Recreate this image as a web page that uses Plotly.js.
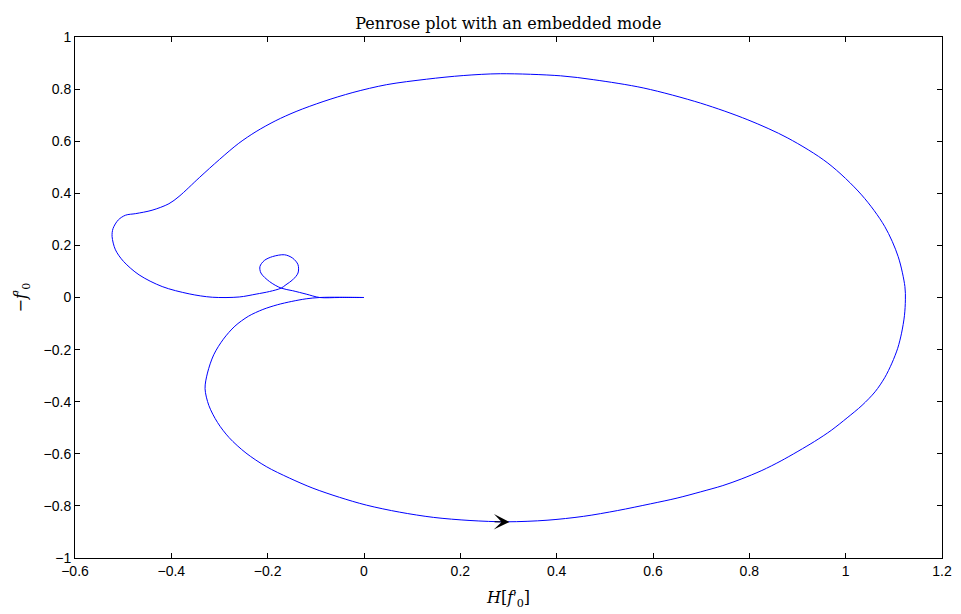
<!DOCTYPE html>
<html>
<head>
<meta charset="utf-8">
<script src="https://cdn.plot.ly/plotly-3.0.1.min.js"></script>
<style>html,body{margin:0;padding:0;background:#fff;}#chart{width:961px;height:614px;}</style>
</head>
<body>
<div id="chart"></div>
<script>
// Real part H[f0'] along the contour
const hilbertF0 = [
  0.000, -0.051, -0.092, -0.120, -0.150, -0.180, -0.210, -0.240, -0.268, -0.292,
  -0.312, -0.325, -0.330, -0.322, -0.304, -0.280, -0.245, -0.203, -0.155, -0.106,
  -0.051, 0.005, 0.074, 0.144, 0.220, 0.297, 0.380, 0.456, 0.526, 0.595,
  0.650, 0.699, 0.745, 0.783, 0.826, 0.866, 0.935, 0.970, 1.003, 1.034,
  1.061, 1.081, 1.096, 1.108, 1.116, 1.122, 1.124, 1.123, 1.109, 1.081,
  1.033, 0.963, 0.880, 0.797, 0.699, 0.581, 0.477, 0.408, 0.283, 0.206,
  0.130, 0.047, -0.023, -0.085, -0.141, -0.183, -0.224, -0.260, -0.300, -0.342,
  -0.384, -0.405, -0.440, -0.474, -0.495, -0.510, -0.521, -0.523, -0.516, -0.499,
  -0.467, -0.419, -0.363, -0.315, -0.259, -0.224, -0.196, -0.172, -0.162, -0.148,
  -0.137, -0.137, -0.148, -0.165, -0.190, -0.207, -0.216, -0.214, -0.196, -0.172,
  -0.148, -0.120, -0.092, -0.051, 0.000
];
// Imaginary part -f0'
const minusF0 = [
  0.000, 0.001, 0.000, -0.005, -0.015, -0.028, -0.046, -0.072, -0.110, -0.160,
  -0.220, -0.290, -0.350, -0.415, -0.480, -0.538, -0.597, -0.649, -0.693, -0.732,
  -0.767, -0.797, -0.824, -0.844, -0.856, -0.861, -0.855, -0.840, -0.818, -0.792,
  -0.770, -0.746, -0.722, -0.697, -0.664, -0.627, -0.553, -0.510, -0.462, -0.414,
  -0.362, -0.308, -0.252, -0.195, -0.137, -0.070, -0.009, 0.042, 0.157, 0.273,
  0.394, 0.516, 0.612, 0.682, 0.746, 0.804, 0.836, 0.851, 0.859, 0.852,
  0.838, 0.817, 0.787, 0.752, 0.714, 0.679, 0.637, 0.592, 0.530, 0.460,
  0.388, 0.360, 0.335, 0.322, 0.316, 0.298, 0.265, 0.234, 0.183, 0.138,
  0.087, 0.042, 0.014, 0.001, 0.002, 0.013, 0.023, 0.036, 0.049, 0.068,
  0.094, 0.126, 0.151, 0.164, 0.157, 0.142, 0.119, 0.094, 0.061, 0.036,
  0.026, 0.013, 0.000, 0.000, 0.000
];
// Direction arrow (tail and tip)
const arrowTail = [0.268, -0.861];
const arrowTip = [0.302, -0.862];

const xTicks = [-0.6, -0.4, -0.2, 0, 0.2, 0.4, 0.6, 0.8, 1, 1.2];
const yTicks = [-1, -0.8, -0.6, -0.4, -0.2, 0, 0.2, 0.4, 0.6, 0.8, 1];

const tickFont = {family: 'Liberation Sans, Arial, sans-serif', size: 14, color: '#000'};
const serif = 'DejaVu Serif, Liberation Serif, serif';
const prime = '<span style="font-family:Liberation Serif">′</span>';

const trace = {
  x: hilbertF0, y: minusF0, type: 'scatter', mode: 'lines',
  line: {color: '#0000ff', width: 1, shape: 'spline', smoothing: 0.9}, hoverinfo: 'skip'
};

const layout = {
  width: 961, height: 614,
  margin: {l: 75, r: 19, t: 37, b: 56, pad: 0},
  paper_bgcolor: '#fff', plot_bgcolor: '#fff',
  showlegend: false,
  title: {text: 'Penrose plot with an embedded mode', font: {family: serif, size: 16, color: '#000'},
          x: 0.529, xanchor: 'center', y: 0.962, yanchor: 'middle'},
  xaxis: {
    range: [-0.6, 1.2], tickvals: xTicks, ticks: 'inside', ticklen: 5, tickcolor: '#000',
    showline: true, linecolor: '#000', linewidth: 1, mirror: 'ticks', showgrid: false, zeroline: false,
    tickfont: tickFont, automargin: false,
    title: {text: '<i>H</i>[<i>f</i>' + prime + '<sub>0</sub>]', font: {family: serif, size: 16, color: '#000'}, standoff: 14}
  },
  yaxis: {
    range: [-1, 1], tickvals: yTicks, ticks: 'inside', ticklen: 5, tickcolor: '#000',
    showline: true, linecolor: '#000', linewidth: 1, mirror: 'ticks', showgrid: false, zeroline: false,
    tickfont: tickFont, automargin: false,
    title: {text: '−<i>f</i>' + prime + '<sub>0</sub>', font: {family: serif, size: 16, color: '#000'}, standoff: 12}
  },
  annotations: [{
    x: arrowTip[0], y: arrowTip[1], ax: arrowTail[0], ay: arrowTail[1],
    xref: 'x', yref: 'y', axref: 'x', ayref: 'y',
    text: '', showarrow: true, arrowhead: 3, arrowsize: 2.6, arrowwidth: 1, arrowcolor: '#000'
  }]
};

Plotly.newPlot('chart', [trace], layout, {displayModeBar: false, staticPlot: true});
</script>
</body>
</html>
